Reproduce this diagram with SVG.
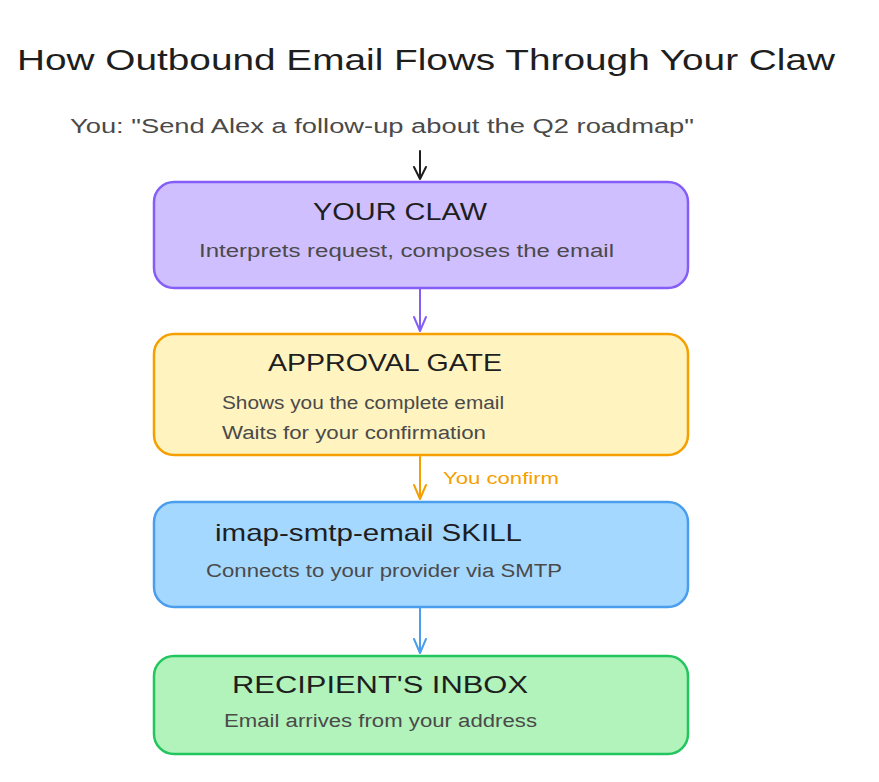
<svg xmlns="http://www.w3.org/2000/svg" width="879" height="782" viewBox="0 0 879 782">
<defs>
<style>
.t{font-family:"Liberation Sans","DejaVu Sans",sans-serif;}
.title{font-size:30px;fill:#1e1e1e;}
.head{font-size:24px;fill:#1e1e1e;}
.sub{font-size:18px;fill:#4a4a4a;}
.box{stroke-width:2.5;}
.conn{fill:none;stroke-width:2;stroke-linecap:round;stroke-linejoin:round;}
</style>
</defs>
<rect width="879" height="782" fill="#ffffff"/>
<text class="t title" x="17" y="70" textLength="818" lengthAdjust="spacingAndGlyphs">How Outbound Email Flows Through Your Claw</text>
<text class="t" x="70" y="133" font-size="20" fill="#4a4a4a" textLength="624" lengthAdjust="spacingAndGlyphs">You: "Send Alex a follow-up about the Q2 roadmap"</text>

<g id="connectors">
<path class="conn" stroke="#1e1e1e" d="M420 151 L420 179 M414 167 L420 179 L426 167"/>
<path class="conn" stroke="#845ef7" d="M420 289 L420 331 M414 317 L420 331 L426 317"/>
<path class="conn" stroke="#f59f00" d="M420 457 L420 499 M414 485 L420 499 L426 485"/>
<text class="t" x="443" y="484" font-size="16" fill="#f59f00" textLength="116" lengthAdjust="spacingAndGlyphs">You confirm</text>
<path class="conn" stroke="#4a9eed" d="M420 608 L420 653 M414 639 L420 653 L426 639"/>
</g>

<g id="your-claw">
<rect class="box" x="154" y="182" width="534" height="106" rx="20" fill="#d0bfff" stroke="#845ef7"/>
<text class="t head" x="313" y="220" textLength="174" lengthAdjust="spacingAndGlyphs">YOUR CLAW</text>
<text class="t sub" x="199" y="257" textLength="415" lengthAdjust="spacingAndGlyphs">Interprets request, composes the email</text>
</g>

<g id="approval-gate">
<rect class="box" x="154" y="334" width="534" height="121" rx="20" fill="#fff3bf" stroke="#f59f00"/>
<text class="t head" x="268" y="371" textLength="234" lengthAdjust="spacingAndGlyphs">APPROVAL GATE</text>
<text class="t sub" x="222" y="409" textLength="282" lengthAdjust="spacingAndGlyphs">Shows you the complete email</text>
<text class="t sub" x="222" y="439" textLength="264" lengthAdjust="spacingAndGlyphs">Waits for your confirmation</text>
</g>

<g id="skill">
<rect class="box" x="154" y="502" width="534" height="105" rx="20" fill="#a5d8ff" stroke="#4a9eed"/>
<text class="t head" x="215" y="541" textLength="307" lengthAdjust="spacingAndGlyphs">imap-smtp-email SKILL</text>
<text class="t sub" x="206" y="577" textLength="356" lengthAdjust="spacingAndGlyphs">Connects to your provider via SMTP</text>
</g>

<g id="inbox">
<rect class="box" x="154" y="656" width="534" height="98" rx="20" fill="#b2f2bb" stroke="#22c55e"/>
<text class="t head" x="232" y="693" textLength="296" lengthAdjust="spacingAndGlyphs">RECIPIENT'S INBOX</text>
<text class="t sub" x="224" y="727" textLength="313" lengthAdjust="spacingAndGlyphs">Email arrives from your address</text>
</g>
</svg>
